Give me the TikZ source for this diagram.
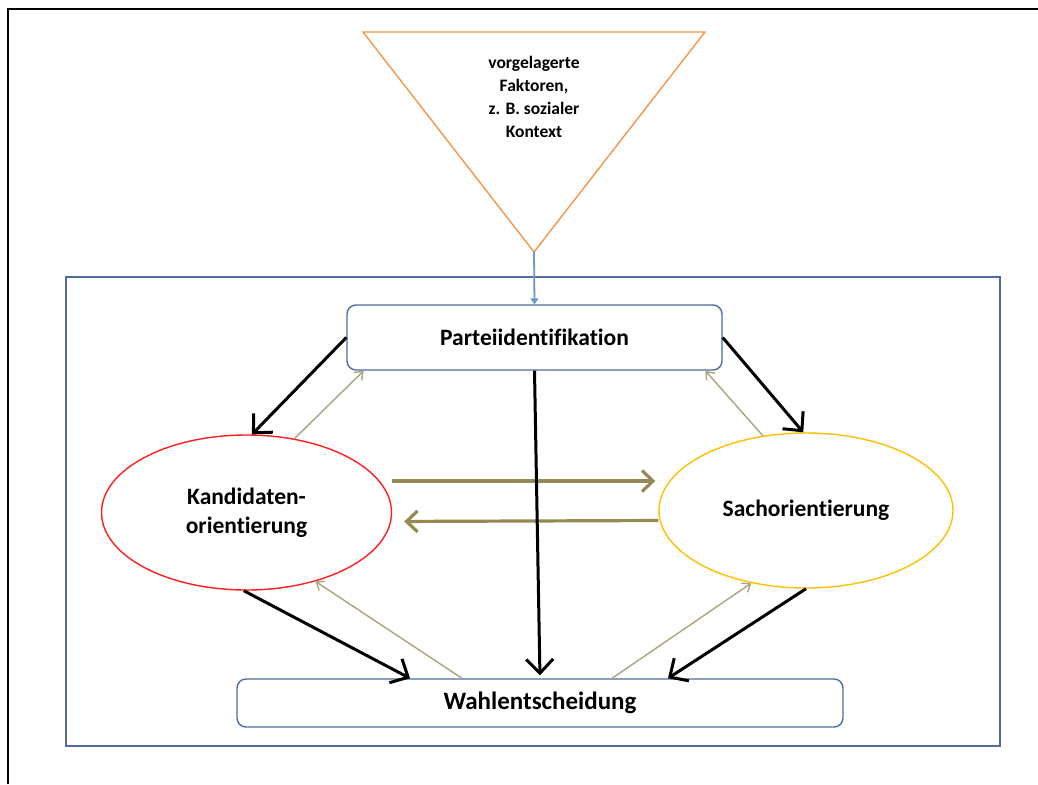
\documentclass[tikz,border=0pt]{standalone}
\usepackage{fontspec}
\setmainfont[Ligatures=NoCommon]{Carlito}
\usetikzlibrary{arrows.meta,calc,shapes.geometric}

\definecolor{boxblue}{RGB}{79,109,158}
\definecolor{triorange}{RGB}{247,150,70}
\definecolor{olivearr}{RGB}{148,138,84}
\definecolor{olivethin}{RGB}{170,164,128}
\definecolor{kandred}{RGB}{255,30,30}
\definecolor{sachgold}{RGB}{255,192,0}
\definecolor{inblue}{RGB}{110,150,205}

\begin{document}
\begin{tikzpicture}[x=1pt,y=-1pt,font=\bfseries,
  box/.style={draw=boxblue,line width=1.4pt,rounded corners=9pt,fill=white,inner sep=0pt},
  oval/.style={ellipse,line width=1.4pt,inner sep=0pt,align=center,
    minimum width=290pt,minimum height=155pt},
  heavy/.style={-{Straight Barb[length=14pt,width=27pt]},line width=3pt},
  cross/.style={-{Straight Barb[length=11pt,width=21pt]},line width=3.2pt,olivearr},
  back/.style={-{Straight Barb[length=7pt,width=11pt]},line width=1.4pt,olivethin}]
 \useasboundingbox[fill=white] (0,0) rectangle (1038,784);
 \draw[line width=2.5pt] (8,784)--(8,9)--(1038,9);
 \draw[boxblue,line width=1.4pt] (66,277) rectangle (1000,746);
 % vorgelagerte Faktoren
 \coordinate (apex) at (534,252);
 \draw[triorange,line width=1.4pt] (363,32)--(705,32)--(apex)--cycle;
 \node[align=center,font=\bfseries\fontsize{17.5}{23}\selectfont] (faktor) at (534,97)
   {vorgelagerte\\Faktoren,\\z. B. sozialer\\Kontext};
 % Knoten
 \node[box,minimum width=375pt,minimum height=65pt,font=\bfseries\fontsize{23.5}{29}\selectfont]
   (partei) at (534.5,337.5) {Parteiidentifikation};
 \node[oval,draw=kandred,font=\bfseries\fontsize{23.5}{29}\selectfont]
   (kand) at (246.5,512.5) {Kandidaten-\\orientierung};
 \node[oval,draw=sachgold,minimum width=294pt,font=\bfseries\fontsize{23.5}{29}\selectfont]
   (sach) at (806,510.5) {Sachorientierung};
 \node[box,minimum width=606pt,minimum height=48pt,font=\bfseries\fontsize{25}{30}\selectfont]
   (wahl) at (540,703) {Wahlentscheidung};
 % Pfeile
 \draw[-{Triangle[length=6pt,width=8pt]},inblue,line width=1.8pt] (apex)--(partei.north);
 \draw[heavy] (partei.west)--(kand.86);
 \draw[back] (kand.57)--(partei.191);
 \draw[heavy] (partei.east)--(sach.92);
 \draw[back] (sach.120)--(partei.349);
 \draw[cross] ([yshift=31.5pt]kand.east)--([yshift=29.5pt,xshift=-3pt]sach.west);
 \draw[cross,shorten >=12pt] ([yshift=-10pt]sach.west)--([yshift=-9pt]kand.east);
 \draw[heavy,shorten >=3pt] (partei.south)--(wahl.north);
 \draw[heavy] (kand.268)--([xshift=-130pt]wahl.north);
 \draw[back] ([xshift=-78pt]wahl.north)--(kand.-45);
 \draw[back] ([xshift=72pt]wahl.north)--(sach.233);
 \draw[heavy] (sach.south)--([xshift=128pt]wahl.north);
\end{tikzpicture}
\end{document}
